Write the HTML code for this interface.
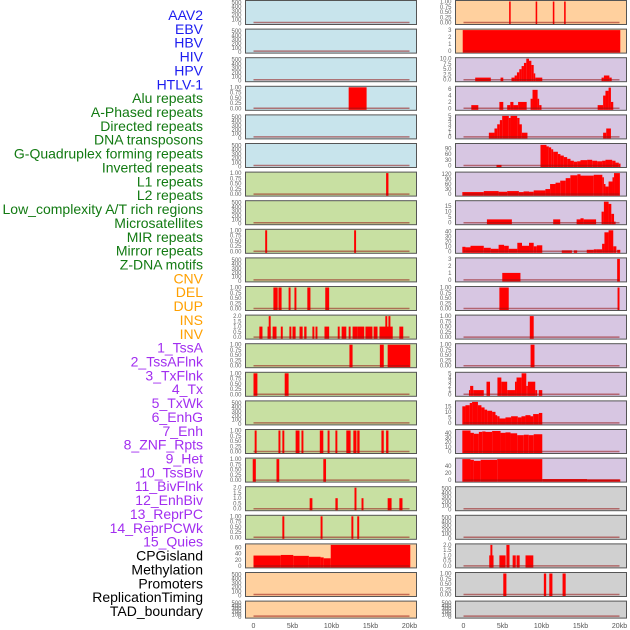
<!DOCTYPE html>
<html><head><meta charset="utf-8"><style>
html,body{margin:0;padding:0;background:#fff;width:630px;height:630px;overflow:hidden}
svg{display:block;font-family:"Liberation Sans",sans-serif}
</style></head><body>
<svg id="chart" width="630" height="630" viewBox="0 0 630 630"></svg>
<script>
const labels=["AAV2","EBV","HBV","HIV","HPV","HTLV-1","Alu repeats","A-Phased repeats","Directed repeats","DNA transposons","G-Quadruplex forming repeats","Inverted repeats","L1 repeats","L2 repeats","Low_complexity A/T rich regions","Microsatellites","MIR repeats","Mirror repeats","Z-DNA motifs","CNV","DEL","DUP","INS","INV","1_TssA","2_TssAFlnk","3_TxFlnk","4_Tx","5_TxWk","6_EnhG","7_Enh","8_ZNF_Rpts","9_Het","10_TssBiv","11_BivFlnk","12_EnhBiv","13_ReprPC","14_ReprPCWk","15_Quies","CPGisland","Methylation","Promoters","ReplicationTiming","TAD_boundary"];
const labelColors=[6,"#1c1cf0",13,"#127a12",5,"#ffa000",15,"#a22ef0",5,"#000000"];
const xTicks=[0,5,10,15,20];
const xTickLabels=["0","5kb","10kb","15kb","20kb"];
const tEmpty=[0,100,200,300,400,500];
const tOne=[0,0.25,0.5,0.75,1];
const tTwo=[0,0.5,1,1.5,2];
// Left column
const L0=[],L1=[],L2=[],L4=[],L5=[],L7=[],L9=[],L14=[],L20=[],L21=[];
const L3=[[12.2,14.5,1]];
const L6=[[17.0,17.3,1]];
const L8=[[1.5,1.75,1],[12.9,13.15,1]];
const L10=[[2.55,3.1,1],[3.2,3.6,1],[4.5,4.75,1],[5.25,5.5,1],[6.9,7.3,1],[9.2,9.7,1]];
const L11=[[0.75,1.15,1],[1.8,2.2,1],[1.95,2.2,2],[2.45,2.95,1],[3.5,3.75,1],[4.6,4.85,1],[5.0,5.4,1],[5.9,6.3,1],[6.5,6.8,1],[7.55,7.8,1],[7.95,8.2,1],[9.1,9.7,1],[10.8,11.05,1],[11.3,11.9,1],[12.2,12.45,1],[12.7,13.3,1],[13.3,14.2,1],[14.35,15.25,1],[15.4,15.9,1],[16.15,17.85,1],[16.9,17.15,2],[17.3,17.55,2],[18.7,19.2,1]];
const L12=[[12.3,12.7,1],[16.2,16.7,1],[17.2,20.1,1]];
const L13=[[0.0,0.5,1],[4.0,4.5,1]];
const L15=[[0.15,0.4,1],[3.2,3.45,1],[3.7,3.95,1],[5.4,5.9,1],[6.15,6.4,1],[8.5,8.95,1],[9.5,9.75,1],[10.5,10.75,1],[11.9,12.45,1],[12.8,13.2,1],[13.3,13.6,1],[16.4,16.7,1],[17.0,17.3,1]];
const L16=[[-0.1,0.3,1],[2.95,3.3,1],[8.95,9.3,1]];
const L17=[[7.2,7.55,1],[10.5,10.8,1],[12.95,13.2,2],[13.85,14.1,1],[17.2,17.7,1],[18.7,19.1,1]];
const L18=[[3.7,3.95,1],[8.6,8.85,1],[12.55,12.8,1],[13.3,13.55,1]];
const L19=[[0,3.5,34],[3.5,5.1,36],[5.1,7.1,33],[7.1,8.6,30],[8.6,9.0,28],[9.0,9.9,25],[9.9,20.1,69]];
// Right column
const R17=[],R18=[],R21=[];
const R0=[[5.85,6.05,1],[9.25,9.45,1],[11.45,11.65,1],[12.9,13.1,1]];
const R1=[[-0.1,20.1,3]];
const R2=[[1.5,3.5,1],[4.75,5.1,1],[6.15,6.55,1],[6.55,6.85,2],[6.85,7.15,3.5],[7.15,7.45,5],[7.45,7.75,6.5],[7.75,8.05,8],[8.05,8.4,10],[8.4,8.7,9],[8.7,9.0,7],[9.0,9.2,3],[9.2,10.1,1],[17.7,18.0,1],[18.0,18.7,2],[18.7,19.0,1]];
const R3=[[1.0,1.9,1],[4.6,5.1,2],[5.6,6.0,1],[6.0,6.4,2],[6.4,7.0,1],[7.0,8.1,2],[8.6,8.85,3],[8.85,9.5,5.8],[9.5,9.7,3],[9.7,10.0,1],[17.2,17.9,1],[17.9,18.2,4],[18.2,18.6,5.5],[18.6,18.9,6.5],[18.9,19.2,2]];
const R4=[[3.25,3.97,1],[3.97,4.32,2],[4.32,4.66,3],[4.66,4.96,4],[4.96,5.81,5],[5.81,6.03,4.5],[6.03,6.88,5],[6.88,7.18,4.5],[7.18,7.48,3],[7.48,8.2,1],[17.9,18.3,1],[18.3,18.9,2]];
const R5=[[4.23,4.87,3],[9.87,10.64,108],[10.64,10.94,100],[10.94,11.24,95],[11.24,11.5,85],[11.5,12.1,72],[12.1,12.43,60],[12.43,12.86,52],[12.86,13.29,44],[13.29,13.72,35],[13.72,14.15,25],[14.15,14.57,20],[14.57,15.0,22],[15.0,15.85,28],[15.85,16.5,30],[16.5,17.13,25],[17.13,17.77,22],[17.77,18.2,25],[18.2,19.06,30],[19.06,19.49,25],[19.49,19.91,15],[19.91,20.13,10]];
const R6=[[-0.15,2.6,12],[2.6,4.5,18],[4.5,5.6,14],[5.6,7.1,18],[7.1,7.7,12],[7.7,8.4,16],[8.4,9.0,14],[9.0,9.87,22],[9.87,10.5,22],[10.5,11.1,30],[11.1,11.8,60],[11.8,12.4,68],[12.4,13.1,80],[13.1,13.7,95],[13.7,14.6,112],[14.6,15.0,118],[15.0,16.7,110],[16.7,17.8,115],[17.8,18.0,100],[18.0,18.2,60],[18.2,18.6,45],[18.6,19.1,75],[19.1,19.3,100],[19.3,20.05,125]];
const R7=[[3.0,6.2,3],[11.5,12.4,3],[14.5,15.0,3],[15.0,15.4,4],[15.4,17.0,3],[17.7,18.0,10],[18.0,18.6,19],[18.6,18.95,17],[18.95,19.3,8],[19.3,19.5,1]];
const R8=[[-0.15,0.25,9],[0.25,0.9,8],[0.9,2.6,11],[2.6,3.5,7],[3.5,4.5,5],[4.5,5.2,13],[5.2,5.8,11],[5.8,6.9,5],[6.9,7.5,17],[7.5,8.4,11],[8.4,9.0,17],[9.0,9.4,10],[9.4,10.1,12],[12.6,13.9,2],[14.15,14.57,2],[15.8,16.7,3],[16.7,17.1,4],[17.1,17.77,4],[17.77,18.07,15],[18.07,18.6,38],[18.6,19.2,42],[19.2,19.6,10],[19.7,20.1,3]];
const R9=[[4.97,7.3,1],[19.7,20.05,3]];
const R10=[[4.6,5.8,1],[19.75,20.0,1]];
const R11=[[8.5,9.0,1]];
const R12=[[8.6,9.1,1]];
const R13=[[0.7,0.85,1],[0.85,1.25,2],[1.25,2.6,1],[2.95,3.4,3],[4.35,4.85,4],[4.85,5.6,3],[5.6,6.6,1],[6.6,6.8,3],[6.8,7.45,4],[7.45,8.05,5],[8.05,8.25,2],[8.25,9.2,3],[9.2,9.45,1],[9.65,10.1,1]];
const R14=[[-0.15,0.25,15],[0.25,0.8,16],[0.8,1.1,18],[1.1,1.85,19],[1.85,2.3,16],[2.3,2.7,14],[2.7,3.03,12],[3.03,3.67,11],[3.67,4.1,10],[4.1,4.32,7],[4.32,4.62,6],[4.62,5.38,4],[5.38,6.1,5],[6.1,6.96,6],[6.96,7.43,5],[7.43,7.94,6],[7.94,8.59,7],[8.59,8.93,6],[8.93,9.66,8],[9.66,10.1,9]];
const R15=[[-0.15,0.9,45],[0.9,1.33,40],[1.33,1.97,38],[1.97,2.4,42],[2.4,2.82,43],[2.82,3.67,42],[3.67,4.75,44],[4.75,5.38,40],[5.38,6.03,41],[6.03,6.88,39],[6.88,7.73,35],[7.73,8.37,36],[8.37,9.0,35],[9.0,10.1,37]];
const R16=[[-0.15,0.9,60],[0.9,1.33,58],[1.33,2.2,55],[2.2,4.32,58],[4.32,10.1,60],[10.1,15.85,3],[15.85,20.1,2]];
const R19=[[3.3,3.85,1],[3.45,3.7,2],[4.6,5.4,1],[5.5,5.9,2],[6.3,6.7,1],[6.8,7.2,1],[7.95,8.95,1]];
const R20=[[5.1,5.5,1],[10.3,10.6,1],[11.0,11.4,1],[12.7,13.1,1]];

const BLUE="#c8e4ec",GREEN="#c8e0a2",PEACH="#ffd09e",LAV="#d7c6e2",GRAY="#d0d0d0";
const leftPanels=[
[L0,tEmpty,500,BLUE],[L1,tEmpty,500,BLUE],[L2,tEmpty,500,BLUE],[L3,tOne,1,BLUE],[L4,tEmpty,500,BLUE],[L5,tEmpty,500,BLUE],
[L6,tOne,1,GREEN],[L7,tEmpty,500,GREEN],[L8,tOne,1,GREEN],[L9,tEmpty,500,GREEN],[L10,tOne,1,GREEN],[L11,tTwo,2,GREEN],
[L12,tOne,1,GREEN],[L13,tOne,1,GREEN],[L14,tEmpty,500,GREEN],[L15,tOne,1,GREEN],[L16,tOne,1,GREEN],[L17,tTwo,2,GREEN],[L18,tOne,1,GREEN],
[L19,[0,20,40,60],69,PEACH],[L20,tEmpty,500,PEACH],[L21,tEmpty,500,PEACH]];
const rightPanels=[
[R0,tOne,1,PEACH],[R1,[0,1,2,3],3,PEACH],[R2,[0,2.5,5,7.5,10],10,LAV],[R3,[0,2,4,6],6.6,LAV],[R4,[0,1,2,3,4,5],5,LAV],
[R5,[0,30,60,90],110,LAV],[R6,[0,30,60,90,120],125,LAV],[R7,[0,5,10,15],19,LAV],[R8,[0,10,20,30,40],42,LAV],
[R9,[0,1,2,3],3,LAV],[R10,tOne,1,LAV],[R11,tOne,1,LAV],[R12,tOne,1,LAV],[R13,[0,1,2,3,4,5],5,LAV],
[R14,[0,5,10,15],19,LAV],[R15,[0,10,20,30,40],45,LAV],[R16,[0,20,40],60,LAV],
[R17,tEmpty,500,GRAY],[R18,tEmpty,500,GRAY],[R19,tTwo,2,GRAY],[R20,tOne,1,GRAY],[R21,tEmpty,500,GRAY]];

const NS="http://www.w3.org/2000/svg";
const svg=document.getElementById('chart');
function mk(tag,attrs,parent){const e=document.createElementNS(NS,tag);for(const k in attrs)e.setAttribute(k,attrs[k]);(parent||svg).appendChild(e);return e;}
function fmt(v,ticks){const mx=Math.max(...ticks);if(mx===1&&ticks.length===5)return v.toFixed(2);if(ticks.some(t=>t%1!==0))return v.toFixed(1);return String(v);}

const colors=[];
for(let i=0;i<labelColors.length;i+=2)for(let j=0;j<labelColors[i];j++)colors.push(labelColors[i+1]);
labels.forEach((t,i)=>{
  const el=mk('text',{x:203,y:15+i*13.86+5,'text-anchor':'end','font-size':'14',fill:colors[i]});
  el.textContent=t;
  
  
});

function drawPanel(p,i,x0,side){
  const [segs,ticks,ymax,bg]=p;
  const top=0.5+28.6*i, h=(i===21)?17:24;
  const g=mk('g',{});
  
  
  const r=mk('rect',{x:x0,y:top,width:171,height:h,fill:bg,stroke:'#555',"stroke-width":1},g);
  
  
  const kx=k=>x0+8+k*7.8;
  const yb=top+h-2, yt=top+1;
  const ky=v=>yb-(v/ymax)*(yb-yt);
  segs.forEach(s=>{
    const xa=Math.max(kx(s[0]),x0+0.5),xb=Math.min(kx(s[1]),x0+170.5);
    const yv=Math.max(ky(s[2]),top+0.5);
    const b=mk('rect',{x:xa,y:yv,width:Math.max(xb-xa,1.2),height:(top+h-0.5)-yv,fill:'#ff0000'},g);
    
    
  });
  const bl=mk('line',{x1:kx(0),x2:kx(20),y1:yb,y2:yb,stroke:'rgba(150,20,20,0.55)','stroke-width':1.5},g);
  
  
  ticks.forEach((t,j)=>{
    let yy;
    if(ymax===500){yy=yb+1-(j/(ticks.length-1))*(h-3);}else yy=ky(t);
    const tl=mk('text',{x:x0-4,y:yy+2,'text-anchor':'end','font-size':'6',fill:'#666'},g);
    tl.textContent=fmt(t,ticks);
    
    
  });
}
leftPanels.forEach((p,i)=>drawPanel(p,i,245.5,'left'));
rightPanels.forEach((p,i)=>drawPanel(p,i,455.5,'right'));
[245.5,455.5].forEach((x0)=>{
  xTicks.forEach((k,j)=>{
    const t=mk('text',{x:x0+8+k*7.8,y:628,'text-anchor':'middle','font-size':'7',fill:'#555'});
    t.textContent=xTickLabels[j];
    
    
  });
});
</script>
</body></html>
